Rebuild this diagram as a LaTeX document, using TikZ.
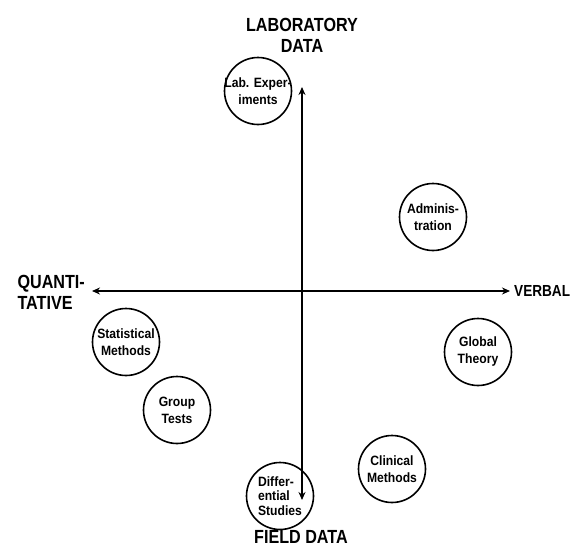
\documentclass[tikz,border=0pt]{standalone}
\usepackage{fontspec}
\setmainfont{Liberation Sans}
\newfontfamily\hdrfont[FakeStretch=0.85]{Liberation Sans}
\newfontfamily\lblfont[FakeStretch=0.9]{Liberation Sans}
\usetikzlibrary{arrows.meta}
\begin{document}
\begin{tikzpicture}[x=1pt,y=-1pt,
  axis/.style={line width=1.8pt,{Stealth[length=8pt,width=7pt]}-{Stealth[length=8pt,width=7pt]}},
  topic/.style={circle,draw,line width=1.6pt,minimum size=67pt,inner sep=0pt},
  intext/.style={font=\lblfont\bfseries\fontsize{13.5}{17}\selectfont,align=center},
  hdr/.style={font=\hdrfont\bfseries\fontsize{19}{21}\selectfont}]
\useasboundingbox (0,0) rectangle (574,550);
% axes
\coordinate (L) at (92,291);
\coordinate (R) at (510,291);
\coordinate (T) at (302,87);
\coordinate (B) at (302,500);
\draw[axis] (L) -- (R);
\draw[axis] (T) -- (B);
% axis labels
\node[hdr,align=center] (lab) at (302,35) {LABORATORY\\DATA};
\node[hdr,align=left,anchor=west] (quant) at (14,292.5) {QUANTI-\\TATIVE};
\node[hdr,anchor=west,inner sep=1pt,font=\hdrfont\bfseries\fontsize{16}{21}\selectfont] (verb) at (513,291) {VERBAL};
\node[hdr] (field) at (301,537) {FIELD DATA};
% circles
\node[topic,label={[intext]center:Lab. Exper-\\iments}] (labexp) at (258,91) {};
\node[topic,label={[intext]center:Adminis-\\tration}] (admin) at (433,217) {};
\node[topic,label={[intext]center:Statistical\\Methods}] (stat) at (126,342) {};
\node[topic,label={[intext]center:Global\\Theory}] (glob) at (478,352) {};
\node[topic,label={[intext]center:Group\\Tests}] (group) at (177,410) {};
\node[topic,label={[intext]center:Clinical\\Methods}] (clin) at (392,469) {};
\node[topic,label={[intext,align=left,font=\lblfont\bfseries\fontsize{13.5}{14.5}\selectfont]center:Differ-\\ential\\Studies}] (diff) at (280,496) {};
\end{tikzpicture}
\end{document}
